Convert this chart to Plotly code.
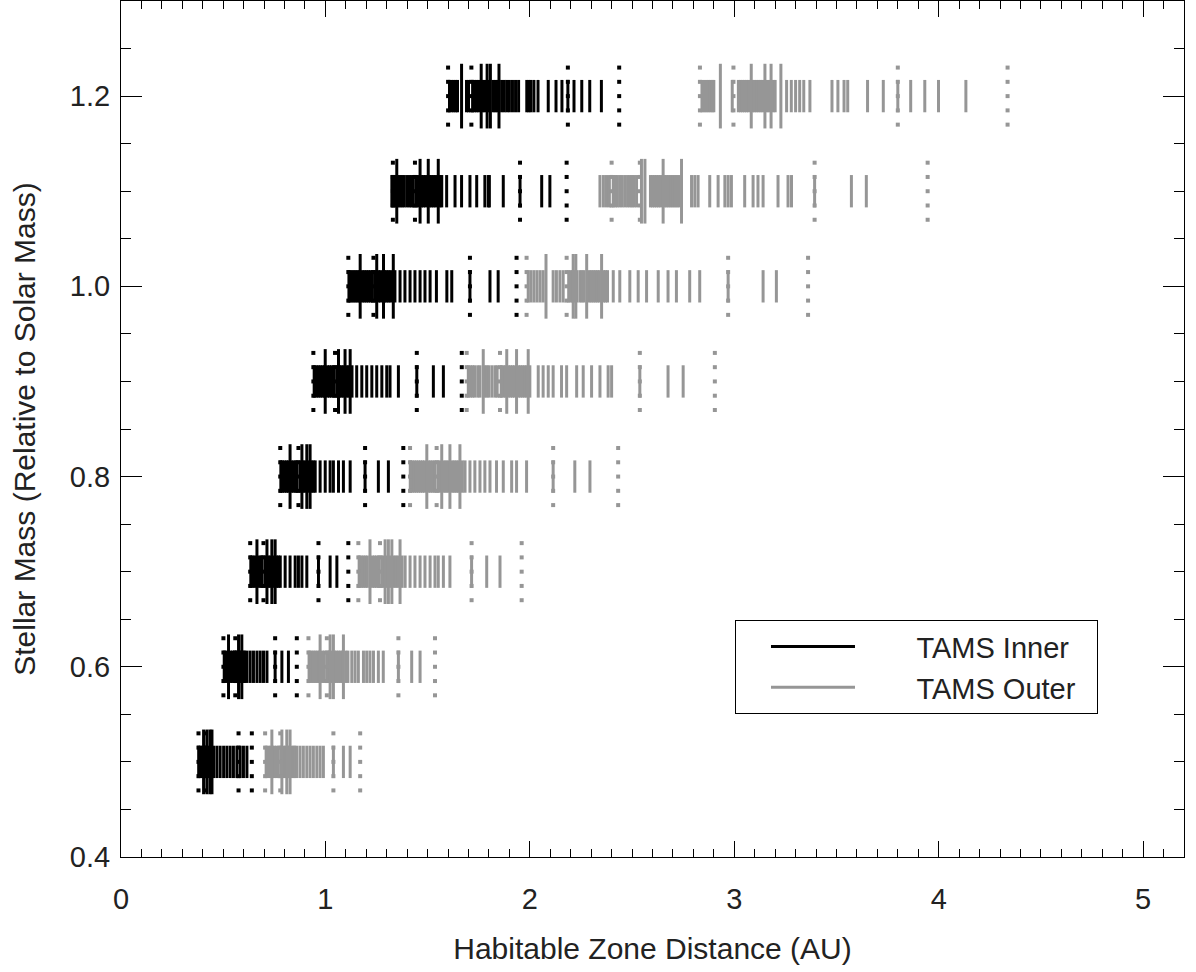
import plotly.graph_objects as go

# Stellar masses (rows)
masses = [0.5, 0.6, 0.7, 0.8, 0.9, 1.0, 1.1, 1.2]

# TAMS inner edge distances (AU), per mass
inner_short = [
    [0.38, 0.39, 0.40, 0.41, 0.42, 0.43, 0.44, 0.453, 0.469, 0.485, 0.502, 0.518, 0.534, 0.550, 0.567, 0.583, 0.599, 0.616],
    [0.505, 0.515, 0.525, 0.535, 0.545, 0.555, 0.565, 0.58, 0.59, 0.60, 0.605, 0.616, 0.632, 0.648, 0.665, 0.681, 0.697, 0.714, 0.754, 0.787, 0.819],
    [0.635, 0.645, 0.655, 0.675, 0.685, 0.69, 0.705, 0.72, 0.73, 0.745, 0.76, 0.77, 0.779, 0.803, 0.827, 0.852, 0.868, 0.885, 0.909, 0.966, 1.023, 1.056],
    [0.782, 0.79, 0.80, 0.81, 0.818, 0.835, 0.845, 0.855, 0.86, 0.875, 0.89, 0.90, 0.915, 0.93, 0.94, 0.950, 0.974, 0.999, 1.023, 1.039, 1.064, 1.088, 1.121, 1.194, 1.259, 1.308],
    [0.945, 0.955, 0.965, 0.975, 0.985, 0.995, 1.01, 1.02, 1.03, 1.04, 1.055, 1.07, 1.08, 1.09, 1.105, 1.115, 1.13, 1.153, 1.178, 1.202, 1.227, 1.251, 1.276, 1.300, 1.316, 1.357, 1.447, 1.528, 1.577],
    [1.115, 1.125, 1.135, 1.145, 1.155, 1.165, 1.18, 1.19, 1.20, 1.21, 1.22, 1.23, 1.245, 1.26, 1.27, 1.29, 1.30, 1.31, 1.32, 1.34, 1.365, 1.389, 1.414, 1.438, 1.463, 1.487, 1.512, 1.543, 1.594, 1.618, 1.707, 1.805, 1.845],
    [1.325, 1.335, 1.345, 1.355, 1.365, 1.375, 1.385, 1.398, 1.41, 1.42, 1.43, 1.445, 1.455, 1.47, 1.48, 1.49, 1.51, 1.52, 1.53, 1.54, 1.56, 1.569, 1.593, 1.634, 1.666, 1.707, 1.740, 1.780, 1.797, 1.802, 1.870, 1.952, 2.058, 2.098],
    [1.607, 1.618, 1.628, 1.638, 1.646, 1.690, 1.700, 1.72, 1.73, 1.74, 1.75, 1.77, 1.78, 1.80, 1.82, 1.83, 1.84, 1.862, 1.875, 1.888, 1.90, 1.915, 1.93, 1.945, 1.985, 1.995, 2.005, 2.02, 2.04, 2.090, 2.128, 2.157, 2.186, 2.216, 2.254, 2.293, 2.350],
]
inner_tall = [
    [0.404, 0.420, 0.435, 0.445],
    [0.526, 0.575, 0.591],
    [0.665, 0.714, 0.738, 0.754],
    [0.827, 0.885, 0.909, 0.925],
    [0.999, 1.064, 1.096, 1.121],
    [1.170, 1.251, 1.284, 1.332],
    [1.349, 1.463, 1.503, 1.552],
    [1.666, 1.762, 1.791, 1.807, 1.849],
]
inner_dotted = [
    [0.379, 0.412, 0.575, 0.640],
    [0.501, 0.559, 0.754, 0.860],
    [0.632, 0.697, 0.966, 1.112],
    [0.779, 0.868, 1.194, 1.381],
    [0.941, 1.047, 1.447, 1.667],
    [1.112, 1.235, 1.707, 1.935],
    [1.330, 1.438, 1.952, 2.180],
    [1.600, 1.714, 2.186, 2.437],
]

# TAMS outer edge distances (AU), per mass
outer_short = [
    [0.71, 0.72, 0.73, 0.74, 0.75, 0.76, 0.77, 0.785, 0.795, 0.805, 0.815, 0.82, 0.835, 0.845, 0.85, 0.860, 0.876, 0.892, 0.909, 0.925, 0.941, 0.958, 0.974, 0.990, 1.039, 1.088, 1.121],
    [0.92, 0.93, 0.94, 0.95, 0.96, 0.97, 0.985, 0.995, 1.01, 1.02, 1.03, 1.045, 1.055, 1.065, 1.075, 1.085, 1.10, 1.11, 1.129, 1.145, 1.161, 1.186, 1.202, 1.218, 1.235, 1.259, 1.283, 1.357, 1.422, 1.463],
    [1.165, 1.175, 1.185, 1.195, 1.205, 1.23, 1.24, 1.25, 1.26, 1.275, 1.285, 1.30, 1.315, 1.335, 1.345, 1.355, 1.375, 1.390, 1.414, 1.438, 1.463, 1.487, 1.512, 1.536, 1.552, 1.577, 1.609, 1.715, 1.789, 1.854],
    [1.415, 1.425, 1.435, 1.445, 1.455, 1.465, 1.475, 1.485, 1.505, 1.515, 1.525, 1.535, 1.55, 1.56, 1.58, 1.59, 1.60, 1.62, 1.63, 1.64, 1.65, 1.67, 1.683, 1.707, 1.731, 1.756, 1.780, 1.805, 1.837, 1.870, 1.911, 1.935, 1.984, 2.114, 2.220, 2.294],
    [1.699, 1.71, 1.72, 1.73, 1.745, 1.756, 1.78, 1.79, 1.80, 1.815, 1.83, 1.84, 1.86, 1.87, 1.88, 1.895, 1.905, 1.915, 1.925, 1.945, 1.955, 1.965, 1.975, 1.985, 2.0, 2.041, 2.065, 2.090, 2.114, 2.155, 2.180, 2.229, 2.261, 2.302, 2.343, 2.383, 2.400, 2.538, 2.676, 2.750],
    [1.992, 2.005, 2.02, 2.035, 2.05, 2.065, 2.114, 2.13, 2.147, 2.163, 2.19, 2.20, 2.21, 2.22, 2.23, 2.245, 2.255, 2.265, 2.29, 2.30, 2.31, 2.32, 2.33, 2.34, 2.36, 2.37, 2.38, 2.408, 2.44, 2.489, 2.53, 2.571, 2.628, 2.676, 2.717, 2.782, 2.831, 2.970, 3.141, 3.206],
    [2.343, 2.36, 2.375, 2.389, 2.408, 2.418, 2.428, 2.44, 2.452, 2.465, 2.478, 2.49, 2.50, 2.51, 2.522, 2.59, 2.60, 2.61, 2.62, 2.63, 2.64, 2.66, 2.67, 2.68, 2.69, 2.70, 2.71, 2.72, 2.73, 2.791, 2.807, 2.823, 2.880, 2.921, 2.954, 2.97, 2.986, 3.051, 3.092, 3.116, 3.141, 3.214, 3.263, 3.280, 3.393, 3.573, 3.646],
    [2.842, 2.852, 2.862, 2.872, 2.882, 2.892, 2.90, 2.99, 3.02, 3.03, 3.04, 3.05, 3.06, 3.07, 3.09, 3.10, 3.11, 3.12, 3.13, 3.14, 3.16, 3.17, 3.19, 3.20, 3.256, 3.279, 3.30, 3.32, 3.34, 3.37, 3.478, 3.507, 3.537, 3.555, 3.652, 3.729, 3.80, 3.863, 3.932, 3.999, 4.133],
]
outer_tall = [
    [0.738, 0.787, 0.811, 0.827],
    [0.974, 1.023, 1.039, 1.088],
    [1.218, 1.292, 1.308, 1.325, 1.365],
    [1.496, 1.569, 1.609, 1.658],
    [1.772, 1.887, 1.935, 1.992],
    [2.079, 2.212, 2.225, 2.278, 2.351],
    [2.546, 2.563, 2.652, 2.742],
    [2.932, 3.083, 3.15, 3.18, 3.228],
]
outer_dotted = [
    [0.705, 0.779, 1.039, 1.170],
    [0.917, 1.007, 1.357, 1.536],
    [1.161, 1.267, 1.715, 1.960],
    [1.414, 1.544, 2.114, 2.432],
    [1.691, 1.854, 2.538, 2.905],
    [1.984, 2.180, 2.970, 3.361],
    [2.400, 2.538, 3.393, 3.946],
    [2.832, 2.996, 3.800, 4.337],
]

x_ticks = [0, 1, 2, 3, 4, 5]
y_ticks = [0.4, 0.6, 0.8, 1.0, 1.2]
y_ticktext = ["0.4", "0.6", "0.8", "1.0", "1.2"]

BLACK = "#000000"
GREY = "rgb(150,150,150)"
SHORT_HALF = 0.017
TALL_HALF = 0.034
DOT_OFFSETS = [-0.030, -0.015, 0.0, 0.015, 0.030]
FONT = "Liberation Sans, Arial, Helvetica, sans-serif"
NB = "\u00a0"


def seg_trace(xs_by_mass, half, color, name, label, showlegend):
    X, Y = [], []
    for m, xs in zip(masses, xs_by_mass):
        for x in xs:
            X += [x, x, None]
            Y += [m - half, m + half, None]
    return go.Scatter(x=X, y=Y, mode="lines", line=dict(color=color, width=3),
                      name=label, legendgroup=name, showlegend=showlegend,
                      hoverinfo="skip")


def dot_trace(xs_by_mass, color, name):
    X, Y = [], []
    for m, xs in zip(masses, xs_by_mass):
        for x in xs:
            for off in DOT_OFFSETS:
                X.append(x)
                Y.append(m + off)
    return go.Scatter(x=X, y=Y, mode="markers",
                      marker=dict(symbol="square", size=4, color=color, line=dict(width=0)),
                      name=name, legendgroup=name, showlegend=False, hoverinfo="skip")


inner_label = NB * 7 + "TAMS Inner" + NB * 2
outer_label = NB * 7 + "TAMS Outer" + NB * 2

fig = go.Figure()
fig.add_trace(seg_trace(inner_short, SHORT_HALF, BLACK, "TAMS Inner", inner_label, True))
fig.add_trace(seg_trace(inner_tall, TALL_HALF, BLACK, "TAMS Inner", inner_label, False))
fig.add_trace(dot_trace(inner_dotted, BLACK, "TAMS Inner"))
fig.add_trace(seg_trace(outer_short, SHORT_HALF, GREY, "TAMS Outer", outer_label, True))
fig.add_trace(seg_trace(outer_tall, TALL_HALF, GREY, "TAMS Outer", outer_label, False))
fig.add_trace(dot_trace(outer_dotted, GREY, "TAMS Outer"))

axis_common = dict(
    showline=True, linecolor="black", linewidth=1.2, mirror="allticks",
    ticks="inside", tickcolor="black", tickwidth=1,
    showgrid=False, zeroline=False,
    tickfont=dict(family=FONT, size=29, color="#222"),
)

fig.update_xaxes(
    range=[0, 5.2], tickvals=x_ticks, ticklen=16,
    minor=dict(ticks="inside", dtick=0.1, tick0=0, ticklen=8, tickcolor="black", tickwidth=1),
    title=dict(text="Habitable Zone Distance (AU)", font=dict(family=FONT, size=30, color="#222"), standoff=24),
    ticklabelstandoff=16,
    **axis_common,
)
fig.update_yaxes(
    range=[0.4, 1.3], tickvals=y_ticks, ticktext=y_ticktext, ticklen=21,
    minor=dict(ticks="inside", dtick=0.05, tick0=0.4, ticklen=10, tickcolor="black", tickwidth=1),
    title=dict(text="Stellar Mass (Relative to Solar Mass)", font=dict(family=FONT, size=30, color="#222"), standoff=25),
    ticklabelstandoff=4,
    **axis_common,
)

fig.update_layout(
    width=1196, height=972,
    margin=dict(l=121, r=12, t=1, b=115, autoexpand=False),
    paper_bgcolor="white", plot_bgcolor="white",
    showlegend=True,
    legend=dict(
        x=0.5776, y=0.2766, xanchor="left", yanchor="top",
        bgcolor="white", bordercolor="black", borderwidth=1,
        font=dict(family=FONT, size=29, color="#222"),
        itemwidth=84, tracegroupgap=0, indentation=30,
    ),
)

fig.write_html("out.html", config={"displayModeBar": False},
               post_script="document.body.style.margin='0';")
